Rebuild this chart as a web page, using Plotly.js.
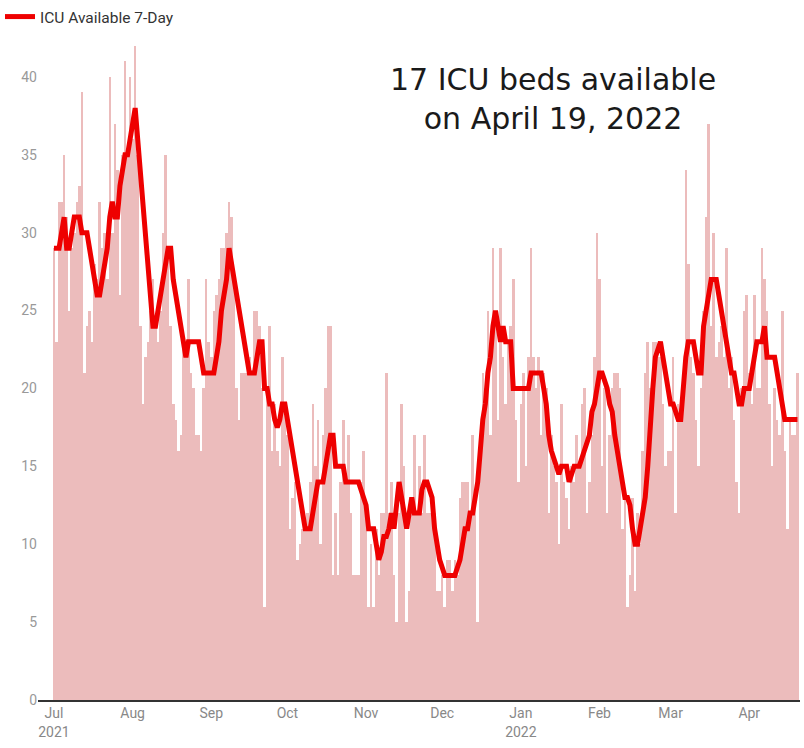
<!DOCTYPE html>
<html>
<head>
<meta charset="utf-8">
<script src="https://cdn.plot.ly/plotly-3.0.1.min.js"></script>
<style>html,body{margin:0;padding:0;background:#fff;}#chart{width:804px;height:748px;}</style>
</head>
<body>
<div id="chart"></div>
<script>
// First day of the series (one value per day)
const startDate = '2021-07-01';

// Daily ICU beds available (bars)
const dailyAvailable = [
  29,23,32,32,35,31,25,29,30,32,
  33,39,21,24,25,23,28,27,32,29,
  30,27,40,30,37,34,26,35,41,35,
  40,36,42,35,24,19,22,23,25,27,
  24,23,25,30,35,29,24,19,18,16,
  17,23,22,27,21,20,17,17,16,20,
  27,23,22,25,26,27,29,29,30,32,
  31,27,20,18,21,21,21,22,21,25,
  25,24,20,6,20,24,16,19,16,15,
  22,19,17,11,13,14,9,10,11,11,
  12,14,19,15,18,10,17,20,24,24,
  8,12,8,14,18,14,17,12,8,8,
  8,14,16,12,6,10,6,11,8,12,
  12,21,12,14,8,5,12,19,15,5,
  7,12,17,12,15,12,17,12,12,12,
  12,7,7,8,6,9,9,7,9,8,
  13,14,14,14,12,17,13,5,17,21,
  20,25,17,29,25,18,29,22,19,23,
  24,27,18,14,19,21,15,22,29,22,
  20,22,17,21,20,12,17,15,14,10,
  19,14,13,11,15,14,17,15,19,20,
  12,14,17,22,30,27,15,20,12,17,
  20,21,21,20,11,13,6,8,13,7,
  12,10,16,21,23,20,23,23,22,22,
  19,15,16,16,22,12,19,18,21,34,
  28,22,21,18,15,20,25,31,37,24,
  30,22,23,24,22,29,20,22,18,14,
  12,20,25,26,21,19,26,20,20,29,
  27,25,19,15,20,18,17,25,16,11,
  18,17,17,21
];

// 7-day average (red line)
const sevenDay = [
  29,29,29,30,31,29,29,30,31,31,
  31,30,30,30,29,28,27,26,26,27,
  28,29,31,32,31,31,33,34,35,35,
  36,37,38,36,34,32,30,28,26,24,
  24,25,26,27,28,29,29,27,26,25,
  24,23,22,23,23,23,23,23,22,21,
  21,21,21,21,22,23,25,26,27,29,
  28,27,26,25,24,23,22,21,21,21,
  22,23,23,20,20,19,19,18,17.5,18,
  19,19,18,17,16,15,14,13,12,11,
  11,11,12,13,14,14,14,15,16,17,
  17,15,15,15,15,14,14,14,14,14,
  14,13.5,13,12.5,11,11,11,10,9,9.5,
  10.5,10.5,11,12,11,12.5,14,13,12,11,
  12,13,12,12,12,13.5,14,14,13.5,13,
  11,10,9,8.5,8,8,8,8,8,8.5,
  9,10,11,11,12,12,13,14,16,18,
  19,21,22,24,25,24,23,24,23,23,
  23,20,20,20,20,20,20,20,21,21,
  21,21,21,20,19,17,16,15.5,15,14.5,
  15,15,15,14,14.5,15,15,15,15.5,16,
  16.5,17,18.5,19,20,21,21,20.5,20,19,
  18.5,17,16,15,14,13,13,12.5,11,10,
  10,11,12,13,15,18,20,22,22.5,23,
  22,21,20,19,19,18.5,18,18,20,22,
  23,23,23,22,21,21,24,25,26,27,
  27,27,26,25,24,23,22,21,21,20,
  19,19,20,20,20,21,22,23,23,23,
  24,22,22,22,22,21,20,19,18,18,
  18,18,18,18
];

// Axis ticks
const tickDates = ['2021-07-01','2021-08-01','2021-09-01','2021-10-01','2021-11-01','2021-12-01',
                   '2022-01-01','2022-02-01','2022-03-01','2022-04-01'];
const tickLabels = ['Jul<br>2021','Aug','Sep','Oct','Nov','Dec','Jan<br>2022','Feb','Mar','Apr'];
const yTicks = [0,5,10,15,20,25,30,35,40];

const seriesName = 'ICU Available 7-Day';
const noteText = '17 ICU beds available<br>on April 19, 2022';

// Build the day list (categories) from the start date
const dates = [];
{
  const base = new Date(startDate + 'T00:00:00Z');
  for (let i = 0; i < dailyAvailable.length; i++) {
    const d = new Date(base.getTime() + i * 86400000);
    dates.push(d.toISOString().slice(0, 10));
  }
}

const traces = [
  {
    type: 'bar',
    x: dates,
    y: dailyAvailable,
    marker: {color: '#ecbcbc', line: {width: 0}},
    showlegend: false,
    hoverinfo: 'skip'
  },
  {
    type: 'scatter',
    mode: 'lines',
    x: dates,
    y: sevenDay.slice(0, dates.length),
    name: seriesName,
    line: {color: '#ee0000', width: 5},
    hoverinfo: 'skip'
  }
];

const layout = {
  width: 804,
  height: 748,
  margin: {l: 38, r: 4, t: 40, b: 48},
  paper_bgcolor: '#ffffff',
  plot_bgcolor: '#ffffff',
  bargap: 0,
  font: {family: 'Roboto, sans-serif', color: '#888'},
  showlegend: true,
  legend: {
    orientation: 'h',
    xref: 'container', yref: 'container',
    x: 0.0, y: 1.0, xanchor: 'left', yanchor: 'top',
    font: {family: 'Roboto, sans-serif', size: 15.5, color: '#333'},
    bgcolor: 'rgba(0,0,0,0)'
  },
  xaxis: {
    type: 'date',
    range: ['2021-06-24 17:00', '2022-04-21 00:00'],
    tickmode: 'array',
    tickvals: tickDates,
    ticktext: tickLabels,
    showgrid: false,
    zeroline: false,
    showline: true,
    linecolor: '#333',
    linewidth: 1.5,
    ticks: '',
    tickfont: {family: 'Roboto, sans-serif', size: 14, color: '#888'}
  },
  yaxis: {
    range: [0, 42.37],
    tickmode: 'array',
    tickvals: yTicks,
    showgrid: false,
    zeroline: false,
    showline: false,
    ticks: '',
    tickfont: {family: 'Roboto, sans-serif', size: 14, color: '#999'}
  },
  annotations: [
    {
      text: noteText,
      xref: 'paper', yref: 'paper',
      x: 0.676, y: 0.91,
      xanchor: 'center', yanchor: 'middle',
      showarrow: false,
      align: 'center',
      font: {family: '"DejaVu Sans", sans-serif', size: 30, color: '#1a1a1a'}
    }
  ]
};

Plotly.newPlot('chart', traces, layout, {displayModeBar: false, staticPlot: true});
</script>
</body>
</html>
